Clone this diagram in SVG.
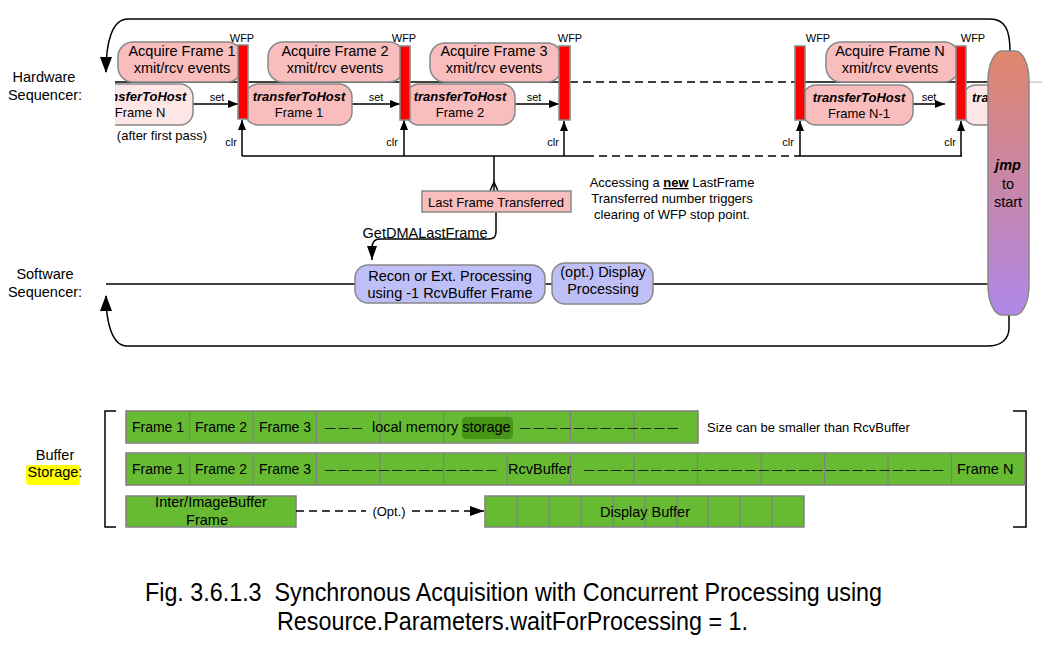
<svg xmlns="http://www.w3.org/2000/svg" width="1042" height="656" viewBox="0 0 1042 656">
<style>
text{font-family:"Liberation Sans",Arial,sans-serif;fill:#000}
.t145{font-size:14.5px}
.t14{font-size:14px}
.t13{font-size:13px}
.t11{font-size:11px}
.dsh{font-size:10.5px}
.bi{font-weight:bold;font-style:italic}
.acq{fill:#F9BDBD;stroke:#888;stroke-width:1.5}
.lite{fill:#FFE6E6;stroke:#888;stroke-width:1.5}
.bar{fill:#FF0000;stroke:#888;stroke-width:1.5}
.lav{fill:#BFBFF7;stroke:#888;stroke-width:1.5}
.ln{fill:none;stroke:#000;stroke-width:1.5}
.dash{fill:none;stroke:#000;stroke-width:1.5;stroke-dasharray:8 5}
.grn{fill:#66BB33;stroke:#808080;stroke-width:1.5}
.div{stroke:#808080;stroke-width:1.2}
.cap{font-family:"Liberation Sans Narrow","Liberation Sans",Arial,sans-serif;font-size:25.5px}
</style>
<defs>
<marker id="big" viewBox="0 0 16 12" refX="15" refY="6" markerWidth="16" markerHeight="12" markerUnits="userSpaceOnUse" orient="auto"><path d="M0,0 L16,6 L0,12 z" fill="#000"/></marker>
<marker id="sm" viewBox="0 0 10 8" refX="10" refY="4" markerWidth="10" markerHeight="8" markerUnits="userSpaceOnUse" orient="auto"><path d="M0,0 L10,4 L0,8 z" fill="#000"/></marker>
<marker id="med" viewBox="0 0 14 10" refX="14" refY="5" markerWidth="14" markerHeight="10" markerUnits="userSpaceOnUse" orient="auto"><path d="M0,0 L14,5 L0,10 z" fill="#000"/></marker>
<linearGradient id="jg" x1="0" y1="0" x2="0" y2="1">
<stop offset="0" stop-color="#E0876C"/>
<stop offset="0.5" stop-color="#C986A8"/>
<stop offset="1" stop-color="#B088EA"/>
</linearGradient>
<clipPath id="clipL"><rect x="115" y="0" width="927" height="656"/></clipPath>
<clipPath id="clipR"><rect x="0" y="0" width="1028" height="656"/></clipPath>
</defs>

<g id="labels">
<text class="t145" x="44" y="82" text-anchor="middle">Hardware</text>
<text class="t145" x="45" y="100" text-anchor="middle">Sequencer:</text>
<text class="t145" x="45" y="279" text-anchor="middle">Software</text>
<text class="t145" x="45" y="297" text-anchor="middle">Sequencer:</text>
<rect x="26" y="465" width="54" height="20" rx="3" fill="#FFFF00"/>
<text class="t145" x="55" y="460" text-anchor="middle">Buffer</text>
<text class="t145" x="55" y="477" text-anchor="middle">Storage:</text>
</g>

<g id="connectors">
<path class="ln" d="M1010 51 C1010 30 1005 19 990 19 L128 19 C112 19 106 42 106 72" marker-end="url(#big)"/>
<path class="ln" d="M1009 315 L1009 328 C1009 340 1000 346 988 346 L127 346 C112 346 106 322 106 296" marker-end="url(#big)"/>
<line class="ln" x1="115" y1="82" x2="570" y2="82"/>
<line class="dash" x1="570" y1="82" x2="795" y2="82"/>
<line class="ln" x1="795" y1="82" x2="990" y2="82"/>
<line x1="990" y1="82" x2="1042" y2="82" stroke="#ccc" stroke-width="1.5"/>
<line class="ln" x1="242" y1="156" x2="586" y2="156"/>
<line class="dash" x1="586" y1="156" x2="800" y2="156"/>
<line class="ln" x1="800" y1="156" x2="962" y2="156"/>
<line class="ln" x1="242" y1="156" x2="242" y2="120" marker-end="url(#sm)"/>
<line class="ln" x1="404" y1="156" x2="404" y2="120" marker-end="url(#sm)"/>
<line class="ln" x1="564" y1="156" x2="564" y2="121" marker-end="url(#sm)"/>
<line class="ln" x1="800" y1="156" x2="800" y2="121" marker-end="url(#sm)"/>
<line class="ln" x1="961" y1="156" x2="961" y2="121" marker-end="url(#sm)"/>
<line class="ln" x1="193" y1="104" x2="238" y2="104" marker-end="url(#sm)"/>
<line class="ln" x1="352" y1="104" x2="400" y2="104" marker-end="url(#sm)"/>
<line class="ln" x1="515" y1="104" x2="559" y2="104" marker-end="url(#sm)"/>
<line class="ln" x1="913" y1="104" x2="945" y2="104" marker-end="url(#sm)"/>
<line class="ln" x1="494" y1="156" x2="494" y2="191"/>
<polyline class="ln" points="490,191 494,182 498,191"/>
<path class="ln" d="M496 212 L496 232 Q496 239 489 239 L380 239 Q372 239 372 248 L372 260" marker-end="url(#med)"/>
<line class="ln" x1="106" y1="284" x2="988" y2="284"/>
<text class="t11" x="217" y="101" text-anchor="middle">set</text>
<text class="t11" x="376" y="101" text-anchor="middle">set</text>
<text class="t11" x="534" y="101" text-anchor="middle">set</text>
<text class="t11" x="929" y="101" text-anchor="middle">set</text>
<text class="t11" x="231" y="146" text-anchor="middle">clr</text>
<text class="t11" x="392" y="146" text-anchor="middle">clr</text>
<text class="t11" x="553" y="146" text-anchor="middle">clr</text>
<text class="t11" x="788" y="146" text-anchor="middle">clr</text>
<text class="t11" x="950" y="146" text-anchor="middle">clr</text>
<text class="t145" x="425" y="238" text-anchor="middle">GetDMALastFrame</text>
</g>

<g id="ttl-frameN" clip-path="url(#clipL)">
<rect class="lite" x="88" y="84" width="105" height="41" rx="13"/>
<text class="t13 bi" x="140" y="101" text-anchor="middle">transferToHost</text>
<text class="t13" x="140" y="117" text-anchor="middle">Frame N</text>
</g>
<text class="t13" x="162" y="140" text-anchor="middle">(after first pass)</text>

<g id="acq1"><rect class="acq" x="118" y="42" width="124" height="40" rx="15"/>
<text class="t145" x="182" y="56" text-anchor="middle">Acquire Frame 1</text>
<text class="t145" x="182" y="73" text-anchor="middle">xmit/rcv events</text></g>
<g id="acq2"><rect class="acq" x="268" y="42" width="136" height="40" rx="15"/>
<text class="t145" x="335" y="56" text-anchor="middle">Acquire Frame 2</text>
<text class="t145" x="335" y="73" text-anchor="middle">xmit/rcv events</text></g>
<g id="acq3"><rect class="acq" x="430" y="43" width="132" height="39" rx="15"/>
<text class="t145" x="494" y="56" text-anchor="middle">Acquire Frame 3</text>
<text class="t145" x="494" y="73" text-anchor="middle">xmit/rcv events</text></g>
<g id="acqN"><rect class="acq" x="826" y="42" width="133" height="40" rx="15"/>
<text class="t145" x="890" y="56" text-anchor="middle">Acquire Frame N</text>
<text class="t145" x="890" y="73" text-anchor="middle">xmit/rcv events</text></g>

<g id="ttl1"><rect class="acq" x="245" y="84" width="107" height="41" rx="13"/>
<text class="t13 bi" x="299" y="101" text-anchor="middle">transferToHost</text>
<text class="t13" x="299" y="117" text-anchor="middle">Frame 1</text></g>
<g id="ttl2"><rect class="acq" x="406" y="84" width="109" height="41" rx="13"/>
<text class="t13 bi" x="460" y="101" text-anchor="middle">transferToHost</text>
<text class="t13" x="460" y="117" text-anchor="middle">Frame 2</text></g>
<g id="ttlN1"><rect class="acq" x="803" y="85" width="110" height="40" rx="13"/>
<text class="t13 bi" x="859" y="102" text-anchor="middle">transferToHost</text>
<text class="t13" x="859" y="118" text-anchor="middle">Frame N-1</text></g>
<g id="ttlN" clip-path="url(#clipR)"><rect class="lite" x="963" y="85" width="110" height="40" rx="13"/>
<text class="t13 bi" x="972" y="102">tra</text></g>

<g id="wfp1"><rect class="bar" x="238" y="45" width="10" height="74"/><text class="t11" x="242" y="42" text-anchor="middle">WFP</text></g>
<g id="wfp2"><rect class="bar" x="400" y="46" width="10" height="74"/><text class="t11" x="404" y="42" text-anchor="middle">WFP</text></g>
<g id="wfp3"><rect class="bar" x="559" y="46" width="11" height="74"/><text class="t11" x="570" y="42" text-anchor="middle">WFP</text></g>
<g id="wfpN1"><rect class="bar" x="795" y="46" width="10" height="74"/><text class="t11" x="818" y="42" text-anchor="middle">WFP</text></g>
<g id="wfpN"><rect class="bar" x="956" y="46" width="10" height="74"/><text class="t11" x="973" y="42" text-anchor="middle">WFP</text></g>

<g id="jmp"><rect x="988" y="51" width="41" height="264" rx="14" ry="30" fill="url(#jg)" stroke="#888" stroke-width="1.5"/>
<text class="t145 bi" x="1008" y="170" text-anchor="middle">jmp</text>
<text class="t145" x="1008" y="189" text-anchor="middle">to</text>
<text class="t145" x="1008" y="207" text-anchor="middle">start</text></g>

<g id="lastframe"><rect x="422" y="191" width="149" height="21" fill="#F9BDBD" stroke="#888" stroke-width="1.5"/>
<text class="t13" x="496" y="207" text-anchor="middle">Last Frame Transferred</text></g>

<g id="note">
<text class="t13" x="672" y="187" text-anchor="middle">Accessing a <tspan font-weight="bold" text-decoration="underline">new</tspan> LastFrame</text>
<text class="t13" x="672" y="203" text-anchor="middle">Transferred number triggers</text>
<text class="t13" x="672" y="219" text-anchor="middle">clearing of WFP stop point.</text>
</g>

<g id="recon"><rect class="lav" x="355" y="265" width="190" height="38" rx="13"/>
<text class="t145" x="450" y="281" text-anchor="middle">Recon or Ext. Processing</text>
<text class="t145" x="450" y="298" text-anchor="middle">using -1 RcvBuffer Frame</text></g>
<g id="display"><rect class="lav" x="552" y="263" width="101" height="41" rx="13"/>
<text class="t145" x="603" y="277" text-anchor="middle">(opt.) Display</text>
<text class="t145" x="603" y="294" text-anchor="middle">Processing</text></g>

<g id="brackets">
<path class="ln" d="M116 411 L105 411 L105 527 L116 527"/>
<path class="ln" d="M1013 411 L1026 411 L1026 527 L1013 527"/>
</g>

<g id="localmem">
<rect class="grn" x="126" y="411" width="572" height="32"/>
<g class="div"><line x1="189.5" y1="411" x2="189.5" y2="443"/><line x1="253" y1="411" x2="253" y2="443"/><line x1="316.5" y1="411" x2="316.5" y2="443"/><line x1="380" y1="411" x2="380" y2="443"/><line x1="443.5" y1="411" x2="443.5" y2="443"/><line x1="507" y1="411" x2="507" y2="443"/><line x1="570.5" y1="411" x2="570.5" y2="443"/><line x1="634" y1="411" x2="634" y2="443"/></g>
<rect x="462" y="417" width="51" height="22" rx="4" fill="#2E7A00" fill-opacity="0.55"/>
<text class="t14" x="158" y="432" text-anchor="middle">Frame 1</text>
<text class="t14" x="221" y="432" text-anchor="middle">Frame 2</text>
<text class="t14" x="285" y="432" text-anchor="middle">Frame 3</text>
<text class="dsh" x="325" y="431">— — —</text>
<text class="t145" x="372" y="432">local memory storage</text>
<text class="dsh" x="520" y="431">— — — — — — — — — — — —</text>
<text class="t13" x="707" y="432">Size can be smaller than RcvBuffer</text>
</g>

<g id="rcvbuffer">
<rect class="grn" x="126" y="453" width="899" height="32"/>
<g class="div"><line x1="189.5" y1="453" x2="189.5" y2="485"/><line x1="253" y1="453" x2="253" y2="485"/><line x1="316.5" y1="453" x2="316.5" y2="485"/><line x1="380" y1="453" x2="380" y2="485"/><line x1="443.5" y1="453" x2="443.5" y2="485"/><line x1="507" y1="453" x2="507" y2="485"/><line x1="570.5" y1="453" x2="570.5" y2="485"/><line x1="634" y1="453" x2="634" y2="485"/><line x1="697.5" y1="453" x2="697.5" y2="485"/><line x1="761" y1="453" x2="761" y2="485"/><line x1="824.5" y1="453" x2="824.5" y2="485"/><line x1="888" y1="453" x2="888" y2="485"/><line x1="951.5" y1="453" x2="951.5" y2="485"/></g>
<text class="t14" x="158" y="474" text-anchor="middle">Frame 1</text>
<text class="t14" x="221" y="474" text-anchor="middle">Frame 2</text>
<text class="t14" x="285" y="474" text-anchor="middle">Frame 3</text>
<text class="dsh" x="325" y="473">— — — — — — — — — — — — —</text>
<text class="t145" x="508" y="474">RcvBuffer</text>
<text class="dsh" x="584" y="473">— — — — — — — — — — — — — — — — — — — — — — — — — — —</text>
<text class="t145" x="957" y="474">Frame N</text>
</g>

<g id="interbuf">
<rect class="grn" x="126" y="496" width="170" height="31"/>
<text class="t145" x="211" y="507" text-anchor="middle">Inter/ImageBuffer</text>
<text class="t145" x="207" y="525" text-anchor="middle">Frame</text>
</g>
<g id="optarrow">
<line class="dash" x1="296" y1="511" x2="366" y2="511"/>
<line class="dash" x1="412" y1="511" x2="484" y2="511" marker-end="url(#med)"/>
<text class="t13" x="389" y="516" text-anchor="middle">(Opt.)</text>
</g>
<g id="displaybuf">
<rect class="grn" x="485" y="496" width="319" height="31"/>
<g class="div"><line x1="517" y1="496" x2="517" y2="527"/><line x1="549" y1="496" x2="549" y2="527"/><line x1="581" y1="496" x2="581" y2="527"/><line x1="613" y1="496" x2="613" y2="527"/><line x1="645" y1="496" x2="645" y2="527"/><line x1="677" y1="496" x2="677" y2="527"/><line x1="708" y1="496" x2="708" y2="527"/><line x1="740" y1="496" x2="740" y2="527"/><line x1="772" y1="496" x2="772" y2="527"/></g>
<text class="t145" x="645" y="517" text-anchor="middle">Display Buffer</text>
</g>

<g id="caption">
<text class="cap" x="145" y="601" textLength="737" lengthAdjust="spacingAndGlyphs">Fig. 3.6.1.3&#160; Synchronous Acquisition with Concurrent Processing using</text>
<text class="cap" x="277" y="630" textLength="471" lengthAdjust="spacingAndGlyphs">Resource.Parameters.waitForProcessing = 1.</text>
</g>
</svg>
